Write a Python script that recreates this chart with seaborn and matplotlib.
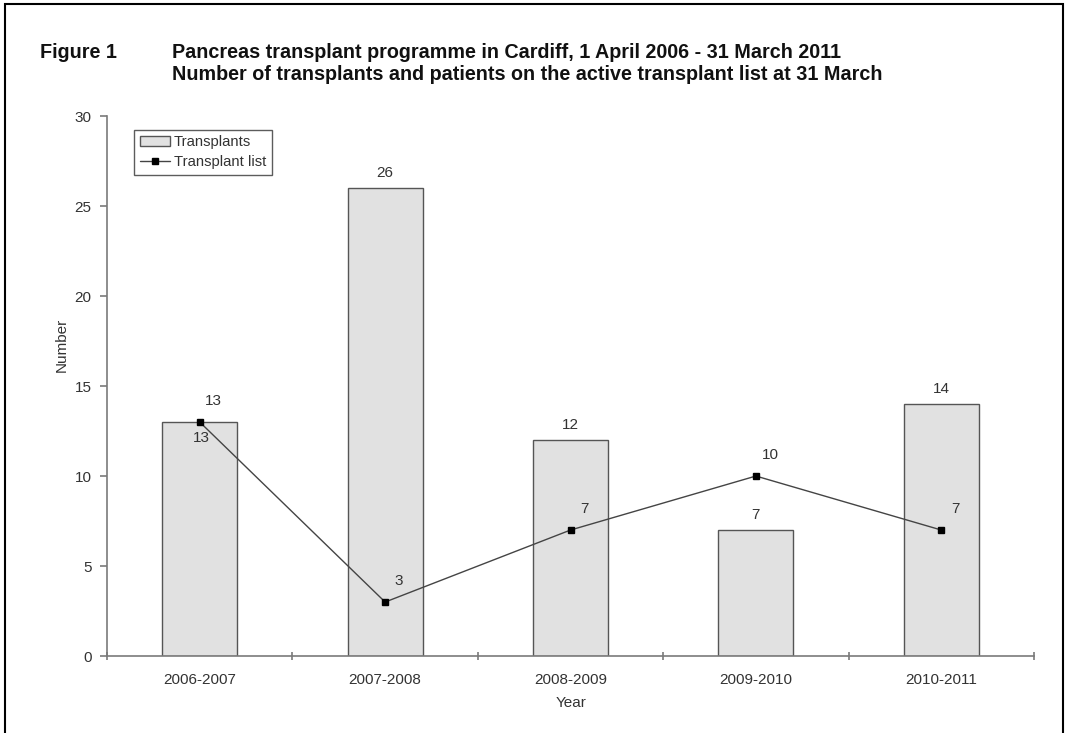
import seaborn as sns
import pandas as pd
import matplotlib.pyplot as plt
from matplotlib.patches import Rectangle

# data
years = ["2006-2007", "2007-2008", "2008-2009", "2009-2010", "2010-2011"]
transplants = [13, 26, 12, 7, 14]
transplant_list = [13, 3, 7, 10, 7]

df = pd.DataFrame({"year": years, "transplants": transplants, "waiting": transplant_list})

sns.set_theme(style="white")
plt.rcParams["font.family"] = ["Liberation Sans", "DejaVu Sans"]

txt = "#333333"
axis_col = "#7a7a7a"
fs = 11

fig = plt.figure(figsize=(10.66, 7.33), dpi=100)
ax = fig.add_axes([0.1004, 0.105, 0.8696, 0.7367])

# bars
sns.barplot(data=df, x="year", y="transplants", color="#e1e1e1", edgecolor="#555555",
            linewidth=1.0, width=0.405, saturation=1, ax=ax, label="Transplants")

# line with square markers
ax.plot(range(len(years)), df["waiting"], color="#444444", lw=1.0, marker="s",
        markersize=5, markerfacecolor="black", markeredgecolor="black", label="Transplant list")

# bar labels (put inside when the line point sits on top of the bar)
for i, v in enumerate(transplants):
    if v == transplant_list[i]:
        ax.annotate(str(v), (i, v), xytext=(2, -16), textcoords="offset pixels",
                    ha="center", va="center", fontsize=fs, color=txt)
    else:
        ax.annotate(str(v), (i, v), xytext=(0, 15), textcoords="offset pixels",
                    ha="center", va="center", fontsize=fs, color=txt)

# line labels
for i, v in enumerate(transplant_list):
    ax.annotate(str(v), (i, v), xytext=(14, 21), textcoords="offset pixels",
                ha="center", va="center", fontsize=fs, color=txt)

ax.set_xlim(-0.5, len(years) - 0.5)
ax.set_ylim(0, 30)
ax.set_yticks(range(0, 31, 5))
ax.set_xticks([i - 0.5 for i in range(len(years) + 1)], minor=True)
ax.tick_params(axis="x", which="major", bottom=False, length=0, pad=12, labelsize=fs, labelcolor=txt)
ax.tick_params(axis="x", which="minor", bottom=True, length=6, width=1.2, color=axis_col, direction="inout")
ax.tick_params(axis="y", left=True, length=5, width=1.2, color=axis_col, direction="out",
               labelsize=fs, labelcolor=txt, pad=6)
for s in ["top", "right"]:
    ax.spines[s].set_visible(False)
for s in ["left", "bottom"]:
    ax.spines[s].set_color(axis_col)
    ax.spines[s].set_linewidth(1.2)

ax.set_xlabel("")
ax.set_ylabel("")
fig.text(0.058, 0.53, "Number", rotation=90, ha="center", va="center", fontsize=fs, color=txt)
fig.text(0.5356, 0.041, "Year", ha="center", va="center", fontsize=fs, color=txt)

handles, labels = ax.get_legend_handles_labels()
order = [labels.index("Transplants"), labels.index("Transplant list")]
leg = ax.legend([handles[k] for k in order], [labels[k] for k in order],
                loc="upper left", bbox_to_anchor=(0.029, 0.975), frameon=True, fancybox=False,
                fontsize=10.7, handlelength=2.0, handletextpad=0.3, borderpad=0.4,
                labelspacing=0.4, borderaxespad=0)
leg.get_frame().set_edgecolor("#333333")
leg.get_frame().set_linewidth(1)
for t in leg.get_texts():
    t.set_color(txt)

# titles
tfs = 14.2
fig.text(0.0375, 0.929, "Figure 1", ha="left", va="center", fontsize=tfs, fontweight="bold", color="#111111")
fig.text(0.161, 0.929, "Pancreas transplant programme in Cardiff, 1 April 2006 - 31 March 2011",
         ha="left", va="center", fontsize=tfs, fontweight="bold", color="#111111")
fig.text(0.161, 0.898, "Number of transplants and patients on the active transplant list at 31 March",
         ha="left", va="center", fontsize=tfs, fontweight="bold", color="#111111")

# outer frame
fig.patches.append(Rectangle((5 / 1066, -0.05), 1058 / 1066, 1.05 - 4 / 733, transform=fig.transFigure,
                             fill=False, edgecolor="black", linewidth=1.5, clip_on=False))

fig.savefig("out.png", dpi=100)
